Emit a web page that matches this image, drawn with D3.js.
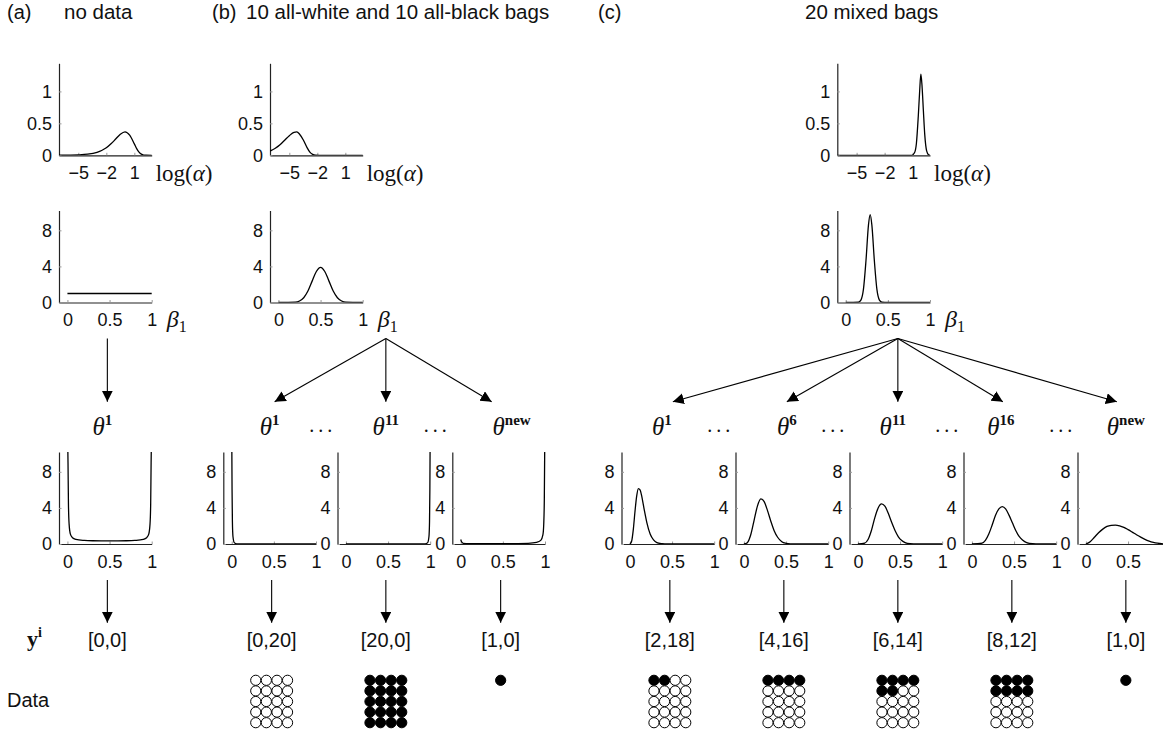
<!DOCTYPE html>
<html>
<head>
<meta charset="utf-8">
<script src="https://cdn.jsdelivr.net/npm/d3@7"></script>
<style>
body { margin: 0; background: #fff; }
svg text { font-family: "Liberation Sans", Arial, sans-serif; fill: #111; }
</style>
</head>
<body>
<div id="fig"></div>
<script>
const W = 1163, H = 731;

// ---- tick values / labels ----
const alphaTicks = [-5, -2, 1];
const alphaTickLabels = ["\u22125", "\u22122", "1"];
const alphaYTicks = [0, 0.5, 1];
const alphaYLabels = ["0", "0.5", "1"];
const probTicks = [0, 0.5, 1];
const probTickLabels = ["0", "0.5", "1"];
const densTicks = [0, 4, 8];
const densTickLabels = ["0", "4", "8"];

// ---- panel titles ----
const panelTags = ["(a)", "(b)", "(c)"];
const panelTitles = ["no data", "10 all-white and 10 all-black bags", "20 mixed bags"];

// ---- posterior on log(alpha): [log alpha, density] ----
const alphaA = [[-7.07,0.001],[-6,0.003],[-5,0.007],[-4,0.018],[-3,0.047],[-2.5,0.075],[-2,0.117],[-1.5,0.18],[-1,0.254],[-0.5,0.33],[0,0.368],[0.5,0.315],[1,0.179],[1.25,0.105],[1.5,0.05],[1.75,0.018],[2,0.004],[2.25,0.0005],[2.86,0]];
const alphaB = [[-7.07,0.066],[-6.5,0.11],[-6,0.165],[-5.5,0.235],[-5,0.307],[-4.5,0.36],[-4.2,0.366],[-3.9,0.33],[-3.5,0.24],[-3.1,0.12],[-2.8,0.05],[-2.5,0.014],[-2.2,0.002],[-1.8,0],[2.86,0]];
const alphaC = [[-7.07,0],[0.9,0],[1.2,0.04],[1.4,0.18],[1.6,0.6],[1.75,1.0],[1.88,1.27],[2.0,1.1],[2.15,0.7],[2.3,0.32],[2.5,0.07],[2.7,0.01],[2.86,0]];

// ---- posterior on beta_1: [beta, density] ----
const betaA = [[0,1],[0.5,1],[1,1]];
const betaB = [[0,0],[0.2,0.04],[0.25,0.17],[0.3,0.53],[0.35,1.27],[0.4,2.37],[0.45,3.44],[0.5,3.9],[0.55,3.44],[0.6,2.37],[0.65,1.27],[0.7,0.53],[0.75,0.17],[0.8,0.04],[1,0]];
const betaC = [[0,0],[0.15,0.03],[0.18,0.27],[0.21,1.45],[0.24,4.6],[0.27,8.6],[0.29,9.74],[0.31,8.6],[0.34,4.6],[0.37,1.45],[0.4,0.27],[0.43,0.03],[0.5,0],[1,0]];

// ---- posterior on theta for each bag: [theta, density] ----
const thetaA1 = [[0.004,11],[0.007,9],[0.012,4.5],[0.02,2.2],[0.035,1.1],[0.06,0.7],[0.1,0.52],[0.2,0.4],[0.3,0.36],[0.5,0.34],[0.7,0.36],[0.8,0.4],[0.9,0.52],[0.94,0.7],[0.965,1.1],[0.98,2.2],[0.988,4.5],[0.993,9],[0.996,11]];
const thetaB1 = [[0.001,11],[0.004,6],[0.008,2.5],[0.015,0.8],[0.03,0.15],[0.06,0.02],[0.12,0],[1,0]];
const thetaB11 = [[0,0],[0.88,0],[0.94,0.02],[0.97,0.15],[0.985,0.8],[0.992,2.5],[0.996,6],[0.999,11]];
const thetaBnew = [[0,0.5],[0.01,0.25],[0.03,0.08],[0.1,0.03],[0.5,0.03],[0.8,0.08],[0.9,0.18],[0.95,0.4],[0.975,1],[0.985,2.2],[0.992,5],[0.997,11]];
const thetaC1 = [[0,0],[0.02,0.3],[0.04,1.6],[0.06,3.6],[0.08,5.3],[0.1,6.15],[0.12,6.0],[0.14,5.3],[0.16,4.3],[0.18,3.3],[0.2,2.4],[0.24,1.1],[0.28,0.45],[0.32,0.15],[0.38,0.04],[0.45,0],[1,0]];
const thetaC6 = [[0,0],[0.04,0.15],[0.08,1.0],[0.12,2.6],[0.16,4.2],[0.2,5.0],[0.24,4.7],[0.28,3.7],[0.32,2.5],[0.36,1.45],[0.4,0.75],[0.45,0.25],[0.5,0.07],[0.55,0.01],[0.62,0],[1,0]];
const thetaC11 = [[0,0],[0.08,0.1],[0.12,0.5],[0.16,1.5],[0.2,2.9],[0.24,4.0],[0.28,4.45],[0.32,4.2],[0.36,3.4],[0.4,2.4],[0.44,1.5],[0.48,0.8],[0.52,0.38],[0.56,0.15],[0.62,0.03],[0.7,0],[1,0]];
const thetaC16 = [[0,0],[0.12,0.1],[0.16,0.4],[0.2,1.1],[0.24,2.1],[0.28,3.2],[0.32,3.9],[0.36,4.15],[0.4,3.9],[0.44,3.2],[0.48,2.35],[0.52,1.5],[0.56,0.85],[0.6,0.45],[0.65,0.15],[0.72,0.03],[0.8,0],[1,0]];
const thetaCnew = [[0,0],[0.05,0.25],[0.1,0.75],[0.15,1.25],[0.2,1.65],[0.25,1.95],[0.3,2.07],[0.35,2.1],[0.4,2.02],[0.45,1.85],[0.5,1.6],[0.55,1.32],[0.6,1.03],[0.65,0.76],[0.7,0.52],[0.75,0.33],[0.8,0.19],[0.85,0.09],[0.9,0.03],[0.95,0.005],[1,0]];

// ---- bags: superscript names and observed counts [black, white] ----
const bagNamesA = ["1"];
const bagCountsA = [[0, 0]];
const bagNamesB = ["1", "11", "new"];
const bagCountsB = [[0, 20], [20, 0], [1, 0]];
const bagNamesC = ["1", "6", "11", "16", "new"];
const bagCountsC = [[2, 18], [4, 16], [6, 14], [8, 12], [1, 0]];

// ---- layout ----
const plotW = 92.7, plotH = 92;
const alphaTop = 63.3, betaTop = 210.5, thetaTop = 452;
const columns = [
  {top: 59, thetaX: [59], alpha: alphaA, beta: betaA, thetas: [thetaA1], names: bagNamesA, counts: bagCountsA, labelShift: [-3], titleX: [7, 64]},
  {top: 270, thetaX: [223.3, 337.5, 452.3], alpha: alphaB, beta: betaB, thetas: [thetaB1, thetaB11, thetaBnew], names: bagNamesB, counts: bagCountsB, labelShift: [0, 2, 13], titleX: [212, 246]},
  {top: 837.3, thetaX: [621.5, 735.5, 849.5, 963.5, 1077.5], alpha: alphaC, beta: betaC, thetas: [thetaC1, thetaC6, thetaC11, thetaC16, thetaCnew], names: bagNamesC, counts: bagCountsC, labelShift: [-6, 5, -3, -9, 2], titleX: [598, 805]}
];

const svg = d3.select("#fig").append("svg")
  .attr("width", W).attr("height", H);

svg.append("defs").append("marker")
  .attr("id", "head")
  .attr("markerUnits", "userSpaceOnUse")
  .attr("markerWidth", 12).attr("markerHeight", 12)
  .attr("viewBox", "0 0 12 12")
  .attr("refX", 11).attr("refY", 5.5)
  .attr("orient", "auto")
  .append("path").attr("d", "M0,0 L11,5.5 L0,11 Z").attr("fill", "#000");

let clipN = 0;
function panel(x0, y0, xDomain, yDomain, xTicks, xLabels, yTicks, yLabels, data) {
  const g = svg.append("g").attr("transform", `translate(${x0},${y0})`);
  const x = d3.scaleLinear().domain(xDomain).range([0, plotW]);
  const y = d3.scaleLinear().domain(yDomain).range([plotH, 0]);

  // labels that would fall past the page edge are left out, as in the original crop
  const xAxis = g.append("g").attr("transform", `translate(0,${plotH})`)
    .call(d3.axisBottom(x).tickValues(xTicks)
      .tickFormat((d, i) => x0 + x(d) > W - 3 ? "" : xLabels[i])
      .tickSizeInner(-2.5).tickSizeOuter(0).tickPadding(11));
  const yAxis = g.append("g")
    .call(d3.axisLeft(y).tickValues(yTicks).tickFormat((d, i) => yLabels[i])
      .tickSizeInner(-2.5).tickSizeOuter(0).tickPadding(7));
  [xAxis, yAxis].forEach(a => {
    a.select(".domain").attr("stroke", "#222").attr("stroke-width", 1.2);
    a.selectAll(".tick line").attr("stroke", "#999");
    a.selectAll("text").style("font-size", "18px").attr("fill", "#111");
  });

  const id = "clip" + (clipN++);
  g.append("clipPath").attr("id", id)
    .append("rect").attr("x", 0).attr("y", 0).attr("width", plotW + 2).attr("height", plotH);
  g.append("path").datum(data)
    .attr("clip-path", `url(#${id})`)
    .attr("fill", "none").attr("stroke", "#000").attr("stroke-width", 1.3)
    .attr("d", d3.line().x(d => x(d[0])).y(d => y(d[1])).curve(d3.curveMonotoneX));
  return {x, y, g};
}

function arrow(x1, y1, x2, y2) {
  svg.append("line")
    .attr("x1", x1).attr("y1", y1).attr("x2", x2).attr("y2", y2)
    .attr("stroke", "#000").attr("stroke-width", 1.1)
    .attr("marker-end", "url(#head)");
}

columns.forEach((col, ci) => {
  // titles
  svg.append("text").attr("x", col.titleX[0]).attr("y", 19).style("font-size", "20px").text(panelTags[ci]);
  svg.append("text").attr("x", col.titleX[1]).attr("y", 19).style("font-size", "20.5px").text(panelTitles[ci]);

  // alpha posterior
  const pa = panel(col.top, alphaTop, [-7.07, 2.86], [0, 1.44], alphaTicks, alphaTickLabels, alphaYTicks, alphaYLabels, col.alpha);
  const la = pa.g.append("text").attr("x", plotW + 4).attr("y", plotH + 26)
    .style("font-family", "'Liberation Serif', serif").style("font-size", "23px").attr("fill", "#333");
  la.append("tspan").text("log(");
  la.append("tspan").style("font-style", "italic").text("\u03b1");
  la.append("tspan").text(")");

  // beta posterior
  const pb = panel(col.top, betaTop, [-0.1, 1], [0, 10.2], probTicks, probTickLabels, densTicks, densTickLabels, col.beta);
  const lb = pb.g.append("text").attr("x", plotW + 15).attr("y", plotH + 24)
    .style("font-family", "'Liberation Serif', serif").style("font-size", "24px").attr("fill", "#333");
  lb.append("tspan").style("font-style", "italic").text("\u03b2");
  lb.append("tspan").attr("dy", 5).style("font-size", "16px").text("1");

  // arrows from beta to theta's
  const centers = col.thetaX.map(x => x + plotW / 2);
  const mid = Math.floor(centers.length / 2);
  const apexX = centers[mid] + 2;
  centers.forEach((c, i) => {
    const tipX = i === mid ? apexX : c + (apexX > c ? 5 : -7);
    arrow(apexX, 338.5, tipX, 401.7);
  });

  // theta posteriors
  col.thetas.forEach((data, i) => {
    const x0 = col.thetaX[i];
    const c = x0 + plotW / 2;
    panel(x0, thetaTop, [-0.1, 1], [0, 10.2], probTicks, probTickLabels, densTicks, densTickLabels, data);

    // theta label
    const t = svg.append("text").attr("x", c + col.labelShift[i]).attr("y", 435)
      .attr("text-anchor", "middle")
      .style("font-family", "'Liberation Serif', serif").attr("fill", "#333");
    t.append("tspan").style("font-style", "italic").style("font-size", "25px").text("\u03b8");
    t.append("tspan").attr("dy", -10).style("font-size", "15px").style("font-weight", "bold").text(col.names[i]);

    // ellipsis between labels
    if (i < col.thetas.length - 1) {
      const gapMid = (x0 + plotW + col.thetaX[i + 1]) / 2 - 4;
      svg.append("text").attr("x", gapMid).attr("y", 432).attr("text-anchor", "middle")
        .style("font-family", "'Liberation Serif', serif").style("font-size", "20px")
        .style("letter-spacing", "4px").attr("fill", "#333").text("...");
    }

    // arrow down to the data
    arrow(c + 2, 580, c + 2, 622.7);

    // counts label
    const cnt = col.counts[i];
    svg.append("text").attr("x", c + 2).attr("y", 647).attr("text-anchor", "middle")
      .style("font-size", "20px").text(`[${cnt[0]},${cnt[1]}]`);

    // data balls: black first, 4 per row
    const n = cnt[0] + cnt[1];
    const balls = d3.range(n).map(k => ({k, black: k < cnt[0]}));
    const step = 10.6, cols4 = Math.min(4, n);
    svg.append("g").selectAll("circle").data(balls).join("circle")
      .attr("cx", d => c + 2 + ((d.k % 4) - (cols4 - 1) / 2) * step)
      .attr("cy", d => 680.3 + Math.floor(d.k / 4) * step)
      .attr("r", 5.1)
      .attr("fill", d => d.black ? "#000" : "#fff")
      .attr("stroke", "#000").attr("stroke-width", 1);
  });
});

// row labels
const yl = svg.append("text").attr("x", 27).attr("y", 646)
  .style("font-family", "'Liberation Serif', serif").style("font-weight", "bold").attr("fill", "#222");
yl.append("tspan").style("font-size", "22px").text("y");
yl.append("tspan").attr("dy", -9).style("font-size", "14px").text("i");
svg.append("text").attr("x", 7).attr("y", 707).style("font-size", "20px").text("Data");
</script>
</body>
</html>
